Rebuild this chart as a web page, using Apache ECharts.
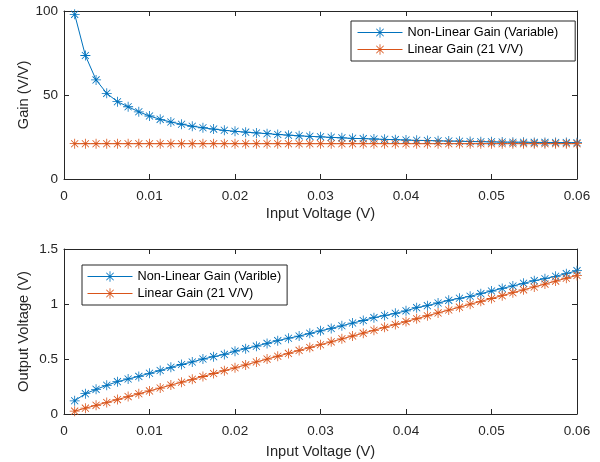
<!DOCTYPE html>
<html>
<head>
<meta charset="utf-8">
<script src="https://cdn.jsdelivr.net/npm/echarts@6/dist/echarts.min.js"></script>
<style>
  html, body { margin: 0; padding: 0; background: #fff; }
  #chart { width: 600px; height: 462px; }
</style>
</head>
<body>
<div id="chart"></div>
<script>
// input voltage steps (V)
const inputVoltage = [0.00125, 0.0025, 0.00375, 0.005, 0.00625, 0.0075, 0.00875, 0.01,
  0.01125, 0.0125, 0.01375, 0.015, 0.01625, 0.0175, 0.01875, 0.02,
  0.02125, 0.0225, 0.02375, 0.025, 0.02625, 0.0275, 0.02875, 0.03,
  0.03125, 0.0325, 0.03375, 0.035, 0.03625, 0.0375, 0.03875, 0.04,
  0.04125, 0.0425, 0.04375, 0.045, 0.04625, 0.0475, 0.04875, 0.05,
  0.05125, 0.0525, 0.05375, 0.055, 0.05625, 0.0575, 0.05875, 0.06];

// top panel: gain (V/V)
const nonLinearGain = [98, 73.5, 59, 51, 46, 43, 40, 37.5, 35.5, 33.9, 32.6, 31.4,
  30.5, 29.7, 29.0, 28.4, 27.9, 27.4, 27.0, 26.5, 26.1, 25.7, 25.4, 25.1,
  24.8, 24.5, 24.2, 24.0, 23.8, 23.6, 23.4, 23.2, 23.0, 22.9, 22.7, 22.6,
  22.5, 22.3, 22.2, 22.1, 22.0, 21.9, 21.9, 21.8, 21.8, 21.7, 21.7, 21.6];
const linearGain = [21, 21, 21, 21, 21, 21, 21, 21, 21, 21, 21, 21,
  21, 21, 21, 21, 21, 21, 21, 21, 21, 21, 21, 21,
  21, 21, 21, 21, 21, 21, 21, 21, 21, 21, 21, 21,
  21, 21, 21, 21, 21, 21, 21, 21, 21, 21, 21, 21];

// bottom panel: output voltage (V)
const nonLinearOut = [0.12, 0.185, 0.224, 0.261, 0.294, 0.318, 0.342, 0.37, 0.395, 0.424, 0.45, 0.473,
  0.5, 0.521, 0.542, 0.571, 0.594, 0.617, 0.642, 0.667, 0.689, 0.708, 0.733, 0.756,
  0.778, 0.802, 0.827, 0.85, 0.876, 0.895, 0.915, 0.938, 0.967, 0.985, 1.009, 1.033,
  1.052, 1.07, 1.094, 1.118, 1.142, 1.164, 1.188, 1.212, 1.23, 1.252, 1.276, 1.303];
const linearOut = [0.026, 0.053, 0.079, 0.105, 0.131, 0.158, 0.184, 0.21, 0.236, 0.263, 0.289, 0.315,
  0.341, 0.368, 0.394, 0.42, 0.446, 0.473, 0.499, 0.525, 0.551, 0.578, 0.604, 0.63,
  0.656, 0.683, 0.709, 0.735, 0.761, 0.788, 0.814, 0.84, 0.866, 0.893, 0.919, 0.945,
  0.971, 0.998, 1.024, 1.05, 1.076, 1.103, 1.129, 1.155, 1.181, 1.208, 1.234, 1.26];

const xTicks = { min: 0, max: 0.06, interval: 0.01 };
const gainTicks = { min: 0, max: 100, interval: 50 };
const outTicks = { min: 0, max: 1.5, interval: 0.5 };

const BLUE = '#0072BD';
const ORANGE = '#D95319';
const AX = '#262626';
const FONT = 'Liberation Sans, Arial, sans-serif';
// asterisk marker, all sub-shapes wound the same way
const STAR = 'path://M9.2 0L10.8 0L10.8 20L9.2 20Z M0 9.2L20 9.2L20 10.8L0 10.8Z ' +
  'M3.5 2.36L17.64 16.5L16.5 17.64L2.36 3.5Z M16.5 2.36L17.64 3.5L3.5 17.64L2.36 16.5Z';

const pairs = (xs, ys) => xs.map((x, i) => [x, ys[i]]);

const mkX = (grid, pos, name, gap) => ({
  type: 'value', gridIndex: grid, position: pos,
  min: xTicks.min, max: xTicks.max, interval: xTicks.interval,
  name: pos === 'bottom' ? name : '', nameLocation: 'middle', nameGap: gap,
  nameMoveOverlap: false,
  nameTextStyle: { color: AX, fontSize: 14.7, fontFamily: FONT },
  axisLine: { show: true, onZero: false, lineStyle: { color: AX, width: 1 } },
  axisTick: { show: true, inside: true, length: 5, lineStyle: { color: AX } },
  axisLabel: { show: pos === 'bottom', color: AX, fontSize: 13.5, fontFamily: FONT, margin: 10 },
  splitLine: { show: false }
});
const mkY = (grid, pos, t, name) => ({
  type: 'value', gridIndex: grid, position: pos,
  min: t.min, max: t.max, interval: t.interval,
  name: pos === 'left' ? name : '', nameLocation: 'middle', nameGap: 33,
  nameMoveOverlap: false,
  nameTextStyle: { color: AX, fontSize: 14.7, fontFamily: FONT },
  axisLine: { show: true, onZero: false, lineStyle: { color: AX, width: 1 } },
  axisTick: { show: true, inside: true, length: 5, lineStyle: { color: AX } },
  axisLabel: { show: pos === 'left', color: AX, fontSize: 13.5, fontFamily: FONT, margin: 6 },
  splitLine: { show: false }
});
const mkSeries = (name, color, xi, yi, data) => ({
  name, type: 'line', xAxisIndex: xi, yAxisIndex: yi, data,
  symbol: STAR, symbolSize: 10, showAllSymbol: true,
  lineStyle: { color, width: 1 }, itemStyle: { color },
  emphasis: { disabled: true }
});
const legendBase = {
  orient: 'vertical', selectedMode: false,
  backgroundColor: '#fff', borderColor: AX, borderWidth: 1,
  itemWidth: 45, itemHeight: 13, itemGap: 4,
  lineStyle: { width: 1 },
  textStyle: { color: '#000', fontSize: 12.7, fontFamily: FONT }
};

const myChart = echarts.init(document.getElementById('chart'), null, { renderer: 'canvas' });
myChart.setOption({
  animation: false,
  backgroundColor: '#fff',
  grid: [
    { left: 64, width: 513, top: 11, height: 168 },
    { left: 64, width: 513, top: 249, height: 165 }
  ],
  xAxis: [
    mkX(0, 'bottom', 'Input Voltage (V)', 27),
    mkX(0, 'top', '', 0),
    mkX(1, 'bottom', 'Input Voltage (V)', 30),
    mkX(1, 'top', '', 0)
  ],
  yAxis: [
    mkY(0, 'left', gainTicks, 'Gain (V/V)'),
    mkY(0, 'right', gainTicks, ''),
    mkY(1, 'left', outTicks, 'Output Voltage (V)'),
    mkY(1, 'right', outTicks, '')
  ],
  legend: [
    Object.assign({}, legendBase, {
      left: 351, top: 21, padding: [5, 17, 5, 6],
      data: ['Non-Linear Gain (Variable)', 'Linear Gain (21 V/V)']
    }),
    Object.assign({}, legendBase, {
      left: 82, top: 265, padding: [5, 6, 5, 5],
      data: ['Non-Linear Gain (Varible)', 'Linear Gain (21 V/V) ']
    })
  ],
  series: [
    mkSeries('Non-Linear Gain (Variable)', BLUE, 0, 0, pairs(inputVoltage, nonLinearGain)),
    mkSeries('Linear Gain (21 V/V)', ORANGE, 0, 0, pairs(inputVoltage, linearGain)),
    mkSeries('Non-Linear Gain (Varible)', BLUE, 2, 2, pairs(inputVoltage, nonLinearOut)),
    mkSeries('Linear Gain (21 V/V) ', ORANGE, 2, 2, pairs(inputVoltage, linearOut))
  ]
});
</script>
</body>
</html>
